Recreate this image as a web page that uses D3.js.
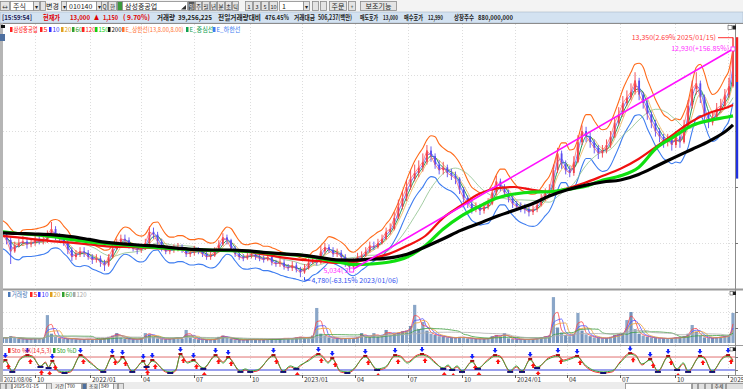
<!DOCTYPE html>
<html>
<head>
<meta charset="utf-8">
<script src="https://cdn.jsdelivr.net/npm/d3@7"></script>
<style>
html, body { margin: 0; padding: 0; background: #fff; overflow: hidden; }
svg { display: block; }
</style>
</head>
<body>
<script>
// ---- data (weekly bars, 2021/08/06 .. 2025/01/15) ----
const startDate = new Date(2021, 7, 6);
const firstOpen = 6250;
const closeP = [
  6300, 6100, 5700, 5900, 6000, 6050, 5950, 6000, 6100, 6050,
  6100, 6300, 6500, 6200, 6150, 6000, 5750, 5500, 5600, 5700,
  5650, 5500, 5400, 5450, 5300, 5200, 5500, 5800, 6000, 6150,
  6100, 5900, 5800, 5750, 5800, 6000, 6400, 6300, 6050, 5800,
  5700, 5750, 5800, 5850, 5750, 5600, 5650, 5750, 5700, 5600,
  5500, 5550, 5700, 5950, 6200, 6100, 5800, 5600, 5500, 5450,
  5550, 5600, 5500, 5450, 5400, 5500, 5300, 5250, 5300, 5150,
  5100, 5200, 5050, 4950, 5100, 5300, 5400, 5300, 5700, 5850,
  5750, 5600, 5650, 5500, 5250, 5150, 5350, 5500, 5550, 5700,
  5900, 5850, 6000, 6150, 6400, 6500, 6900, 7300, 7600, 8000,
  8300, 8500, 8700, 8900, 9300, 9100, 8800, 8600, 8700, 8500,
  8400, 8300, 7900, 7600, 7400, 7200, 7300, 7150, 7300, 7400,
  7800, 8200, 8000, 7800, 7600, 7400, 7300, 7250, 7200, 7100,
  7200, 7350, 7600, 7800, 7900, 8600, 9200, 8800, 8600, 8500,
  8900, 9600, 10000, 9800, 9600, 9400, 9200, 9300, 9500, 9800,
  10300, 10600, 11000, 11200, 11400, 11800, 11300, 11000, 10600, 10300,
  10000, 9800, 9600, 9700, 9500, 9800, 9600, 10200, 10900, 11500,
  11700, 11200, 10600, 10300, 10500, 10800, 10900, 11300, 11600, 13000
];
const highP = [
  6500, 6400, 6200, 6050, 6150, 6250, 6200, 6150, 6300, 6250,
  6250, 6450, 6750, 6600, 6350, 6250, 6100, 5850, 5750, 5850,
  5850, 5750, 5600, 5600, 5550, 5400, 5600, 5950, 6150, 6300,
  6300, 6200, 6000, 5950, 5950, 6150, 6600, 6550, 6400, 6150,
  5900, 5900, 5950, 6000, 5950, 5850, 5800, 5900, 5850, 5800,
  5700, 5700, 5850, 6100, 6350, 6300, 6150, 5900, 5700, 5600,
  5700, 5750, 5700, 5600, 5550, 5650, 5600, 5400, 5450, 5400,
  5250, 5350, 5300, 5150, 5250, 5450, 5550, 5500, 5900, 6000,
  5950, 5850, 5800, 5750, 5600, 5350, 5450, 5650, 5700, 5850,
  6050, 6050, 6150, 6300, 6550, 6700, 7100, 7550, 7850, 8250,
  8600, 8800, 8950, 9200, 9500, 9450, 9200, 8950, 8900, 8800,
  8650, 8550, 8350, 8000, 7700, 7500, 7450, 7400, 7450, 7600,
  8000, 8400, 8300, 8100, 7900, 7700, 7500, 7450, 7400, 7300,
  7350, 7500, 7750, 7950, 8100, 8800, 9400, 9300, 8950, 8750,
  9100, 9850, 10200, 10150, 9950, 9700, 9500, 9500, 9700, 10000,
  10500, 10850, 11250, 11450, 11700, 12100, 11900, 11400, 11100, 10700,
  10400, 10100, 9900, 9900, 9800, 10000, 9900, 10400, 11100, 11800,
  12100, 11800, 11300, 10700, 10700, 11000, 11150, 11500, 11900, 13350
];
const lowP = [
  6150, 5950, 5250, 5650, 5850, 5900, 5800, 5850, 5900, 5950,
  5950, 6000, 6200, 6100, 6000, 5900, 5600, 5350, 5400, 5500,
  5500, 5400, 5250, 5300, 5150, 5000, 5150, 5450, 5750, 5950,
  5950, 5800, 5700, 5600, 5650, 5750, 5950, 6150, 5950, 5700,
  5600, 5600, 5650, 5700, 5650, 5500, 5500, 5550, 5600, 5500,
  5400, 5400, 5500, 5650, 5900, 5950, 5700, 5500, 5400, 5350,
  5400, 5450, 5400, 5350, 5300, 5350, 5200, 5150, 5150, 5050,
  5000, 5000, 4950, 4780, 4900, 5050, 5250, 5200, 5250, 5600,
  5650, 5500, 5500, 5400, 5150, 5034, 5100, 5300, 5400, 5500,
  5650, 5750, 5800, 5950, 6100, 6300, 6450, 6850, 7200, 7500,
  7900, 8200, 8350, 8550, 8800, 8900, 8650, 8450, 8450, 8350,
  8250, 8100, 7750, 7450, 7250, 7050, 7100, 7000, 7050, 7200,
  7350, 7700, 7850, 7650, 7450, 7250, 7150, 7100, 7050, 6950,
  7000, 7100, 7300, 7500, 7700, 7850, 8500, 8650, 8450, 8350,
  8400, 8850, 9500, 9600, 9400, 9200, 9000, 9050, 9200, 9400,
  9750, 10200, 10500, 10900, 11100, 11300, 11100, 10800, 10400, 10100,
  9800, 9600, 9400, 9450, 9300, 9400, 9400, 9550, 10100, 10800,
  11300, 11000, 10400, 10100, 10200, 10400, 10650, 10800, 11200, 11550
];
// volume, millions of shares (height of the visible bar)
const volume = [
  18, 15, 22, 16, 14, 13, 12, 14, 15, 13,
  16, 90, 30, 20, 16, 14, 13, 15, 12, 11,
  12, 13, 11, 12, 13, 15, 20, 24, 32, 18,
  14, 13, 12, 12, 14, 32, 28, 20, 15, 13,
  12, 14, 16, 18, 14, 42, 18, 14, 12, 11,
  10, 11, 13, 20, 24, 16, 13, 11, 10, 10,
  11, 12, 11, 10, 11, 12, 13, 12, 14, 16,
  14, 15, 18, 20, 16, 18, 24, 113, 30, 24,
  18, 15, 14, 13, 16, 14, 16, 18, 32, 20,
  18, 32, 20, 24, 42, 26, 30, 34, 38, 40,
  55, 123, 45, 68, 40, 30, 26, 22, 20, 18,
  17, 16, 20, 18, 15, 14, 13, 14, 13, 15,
  22, 26, 20, 32, 15, 13, 12, 12, 11, 12,
  13, 15, 18, 22, 24, 148, 50, 34, 26, 22,
  30, 97, 40, 28, 22, 18, 16, 15, 16, 20,
  26, 28, 32, 74, 100, 45, 30, 24, 20, 18,
  16, 15, 15, 14, 16, 18, 17, 22, 30, 58,
  36, 24, 18, 16, 16, 18, 20, 22, 26, 97
];
// long moving averages read monthly
const maDates = [
  "2021-08-06", "2021-09-01", "2021-10-01", "2021-11-01", "2021-12-01",
  "2022-01-01", "2022-02-01", "2022-03-01", "2022-04-01", "2022-05-01", "2022-06-01",
  "2022-07-01", "2022-08-01", "2022-09-01", "2022-10-01", "2022-11-01", "2022-12-01",
  "2023-01-01", "2023-02-01", "2023-03-01", "2023-04-01", "2023-05-01", "2023-06-01",
  "2023-07-01", "2023-08-01", "2023-09-01", "2023-10-01", "2023-11-01", "2023-12-01",
  "2024-01-01", "2024-02-01", "2024-03-01", "2024-04-01", "2024-05-01", "2024-06-01",
  "2024-07-01", "2024-08-01", "2024-09-01", "2024-10-01", "2024-11-01", "2024-12-01",
  "2025-01-01", "2025-01-10"
];
const ma120 = [
  6250, 6200, 6130, 6060, 6010,
  5950, 5880, 5860, 5840, 5810, 5790, 5760, 5740, 5720, 5680, 5580, 5480,
  5400, 5350, 5290, 5330, 5450, 5620, 5900, 6250, 6900, 7330, 7750, 7950,
  8000, 7900, 7820, 7950, 8150, 8400, 8650, 9000, 9450, 9900, 10350, 10650,
  10850, 10930
];
const ma150 = [
  6400, 6340, 6300, 6230, 6130,
  6040, 5980, 5930, 5880, 5830, 5790, 5760, 5740, 5730, 5700, 5650, 5600,
  5560, 5450, 5340, 5230, 5250, 5320, 5500, 5900, 6500, 6950, 7300, 7600,
  7750, 7820, 7830, 7920, 8020, 8250, 8400, 8700, 9400, 9800, 10200, 10380,
  10500, 10540
];
const ma200 = [
  6360, 6340, 6320, 6290, 6230,
  6130, 6020, 5970, 5920, 5880, 5820, 5770, 5750, 5750, 5720, 5660, 5610,
  5570, 5480, 5400, 5390, 5420, 5470, 5600, 5860, 6150, 6450, 6700, 6950,
  7170, 7400, 7680, 7900, 8060, 8180, 8250, 8450, 8750, 9050, 9350, 9650,
  10050, 10220
];
// slow stochastic: [week number, %K, %D]
const stoPoints = [
  [0, 50, 55], [0.7, 66, 61], [2.4, 11, 16], [4.4, 75, 70], [6.1, 89, 84], [7.3, 85, 80],
  [9.3, 34, 39], [10.5, 57, 52], [11.3, 29, 34], [12.2, 62, 57], [13.7, 11, 16], [15.2, 6, 11],
  [16.7, 11, 16], [19.1, 89, 84], [21.5, 57, 52], [24.7, 11, 16], [26.9, 85, 80], [28.2, 57, 52],
  [29.4, 80, 75], [31.8, 11, 16], [34.5, 62, 57], [35.3, 34, 39], [36.7, 66, 61], [39.9, 11, 16],
  [41.1, 6, 11], [42.4, 15, 20], [43.6, 94, 89], [45.3, 57, 52], [46.8, 66, 61], [49.2, 25, 30],
  [52.2, 89, 84], [54.1, 57, 52], [55.3, 80, 75], [58.3, 11, 16], [59.5, 20, 25], [60.7, 11, 16],
  [62.4, 15, 20], [66.4, 89, 84], [68.8, 11, 16], [70.5, 34, 39], [72.0, 25, 30], [73.0, 38, 43],
  [74.9, 66, 61], [77.4, 94, 89], [78.4, 85, 80], [79.8, 57, 52], [80.8, 75, 70], [82.8, 11, 16],
  [84.5, 6, 11], [85.7, 15, 20], [88.9, 85, 80], [91.8, 20, 25], [93.8, 29, 34], [96.2, 89, 84],
  [97.5, 85, 80], [99.2, 57, 52], [101.6, 89, 84], [102.8, 94, 89], [104.3, 85, 80], [106.0, 57, 52],
  [108.0, 25, 30], [109.2, 38, 43], [110.2, 20, 25], [111.4, 34, 39], [112.6, 11, 16], [115.1, 62, 57],
  [116.5, 25, 30], [118.8, 66, 61], [120.7, 89, 84], [121.9, 85, 80], [124.4, 11, 16], [125.9, 34, 39],
  [127.3, 11, 16], [129.3, 71, 66], [131.0, 29, 34], [133.7, 75, 70], [136.1, 89, 84], [137.4, 66, 61],
  [139.1, 75, 70], [140.8, 85, 80], [142.8, 38, 43], [145.2, 11, 16], [147.2, 6, 11], [149.4, 11, 16],
  [151.3, 57, 52], [153.8, 98, 93], [155.2, 89, 84], [156.7, 43, 48], [158.7, 71, 66], [160.6, 11, 16],
  [163.1, 85, 80], [165.3, 20, 25], [166.8, 48, 53], [168.0, 11, 16], [170.9, 85, 80], [171.9, 80, 75],
  [173.9, 11, 16], [176.6, 80, 75], [177.8, 89, 84], [179.0, 66, 61]
];
const tickDates = [
  "2021-10-01", "2022-01-03", "2022-04-01", "2022-07-01", "2022-10-04", "2023-01-02", "2023-04-03",
  "2023-07-03", "2023-10-04", "2024-01-02", "2024-04-01", "2024-07-01", "2024-10-02", "2025-01-02"
];
const tickLabels = ["10", "2022/01", "04", "07", "10", "2023/01", "04", "07", "10", "2024/01", "04", "07", "10", "2025/01"];
const priceGrid = [6000, 8000, 10000, 12000];
const trendLine = [{date: "2023-03-28", v: 5034}, {date: "2025-01-10", v: 12930}];
const highMark = {date: "2025-01-10", v: 13350, text: "13,350(2.69% 2025/01/15)"};
const lowMark = {date: "2023-01-06", v: 4780, text: "4,780(-63.15% 2023/01/06)"};

const W = 743, H = 389;
const FONT = "'Noto Sans CJK KR', 'Noto Sans', sans-serif";
const parse = d3.timeParse("%Y-%m-%d");

const svg = d3.select("body").append("svg")
    .attr("width", W).attr("height", H)
    .style("font-family", FONT);

// scales
const endDate = d3.timeDay.offset(startDate, 7 * (closeP.length - 1));
const x = d3.scaleTime().domain([startDate, endDate]).range([2.5, 733]);
const xw = d3.scaleLinear().domain([0, closeP.length - 1]).range([2.5, 733]);
const y = d3.scaleLinear().domain([4000, 14000]).range([299, 19]);
const yv = d3.scaleLinear().domain([0, 150]).range([343, 296.5]);
const ys = d3.scaleLinear().domain([0, 100]).range([374.3, 352.7]);

const P = {left: 3, right: 735, mainTop: 24, mainBot: 289, volTop: 290, volBot: 345, stoTop: 346, stoBot: 375};

const defs = svg.append("defs");
[["clipMain", P.mainTop, P.mainBot], ["clipVol", P.volTop, P.volBot], ["clipSto", P.stoTop, P.stoBot]].forEach(c => {
    defs.append("clipPath").attr("id", c[0]).append("rect")
        .attr("x", P.left).attr("y", c[1]).attr("width", P.right - P.left).attr("height", c[2] - c[1]);
});

//////////// top toolbar ////////////
svg.append("rect").attr("x", 0).attr("y", 0).attr("width", W).attr("height", 12).attr("fill", "#f3f3f3");
const controls = [
    [0, 9, "btn", "↔"], [10, 23, "field", "주식"], [33, 6, "btn", "▾"], [40, 5, "btn", ""], [46, 0, "text", "변경"],
    [61, 5, "btn", "▾"], [66, 30, "field", "010140"], [96, 5, "btn", "▾"], [101, 6, "btn", "Q"], [108, 8, "btn", "한"],
    [117, 5, "icon", ""], [122, 65, "field", "삼성중공업"], [188, 6, "dark", "일"], [195, 6, "btn", "주"], [202, 7, "btn", "월"],
    [210, 6, "btn", "년"], [217, 7, "btn", "분"], [225, 6, "btn", "초"], [232, 6, "btn", "틱"], [245, 7, "btn", "1"],
    [253, 7, "btn", "3"], [261, 7, "btn", "5"], [269, 8, "btn", "10"], [279, 24, "field", "1"], [303, 6, "btn", "▾"],
    [312, 6, "btn", ""], [320, 6, "btn", ""], [329, 17, "btn", "주문"], [348, 7, "btn", "+"], [360, 36, "btn", "보조기능"]
];
controls.forEach(c => {
    const [cx, cw, kind, txt] = c;
    if (kind !== "text") {
        svg.append("rect").attr("x", cx + 0.5).attr("y", 1.5).attr("width", cw).attr("height", 9)
            .attr("fill", kind === "field" ? "#fff" : kind === "dark" ? "#555" : kind === "icon" ? "#3c9a3c" : "#e4e4e4")
            .attr("stroke", "#8a8a8a").attr("stroke-width", 0.8);
    }
    if (txt) {
        const small = kind === "btn" || kind === "dark";
        svg.append("text")
            .attr("x", kind === "field" ? cx + 3 : kind === "text" ? cx : cx + cw / 2 + 0.5)
            .attr("y", 9)
            .attr("text-anchor", kind === "field" || kind === "text" ? "start" : "middle")
            .attr("font-size", small && cw < 12 ? 5.5 : 7)
            .attr("fill", kind === "dark" ? "#fff" : "#222")
            .text(txt);
    }
});
svg.append("path").attr("d", "M181,9.5 L186,9.5 L186,5 Z").attr("fill", "#333");

//////////// info bar ////////////
svg.append("rect").attr("x", 0).attr("y", 12).attr("width", W).attr("height", 11)
    .attr("fill", "#d3e2f1").attr("stroke", "#a8b8c8").attr("stroke-width", 0.6);
const info = [
    ["[15:59:54]", 2, 30, "#1b1b55", 700], ["현재가", 43, 17, "#e00000", 700], ["13,000", 70, 20, "#e00000", 700],
    ["▲", 94, 5, "#e00000", 400], ["1,150", 103, 15, "#e00000", 700], ["( 9.70%)", 123, 27, "#e00000", 700],
    ["거래량", 157, 18, "#222", 700], ["39,256,225", 178, 34, "#222", 700], ["전일거래량대비", 218, 43, "#222", 700],
    ["476.45%", 265, 24, "#222", 700], ["거래대금", 294, 21, "#222", 700], ["506,237(백만)", 318, 34, "#222", 700],
    ["매도호가", 360, 18, "#222", 700], ["13,000", 383, 15, "#222", 700], ["매수호가", 404, 19, "#222", 700],
    ["12,990", 428, 15, "#222", 700], ["상장주수", 454, 20, "#222", 700], ["880,000,000", 478, 35, "#222", 700]
];
info.forEach(d => {
    svg.append("text").attr("x", d[1]).attr("y", 20.3)
        .attr("font-size", 6.8).attr("font-weight", d[4]).attr("fill", d[3])
        .attr("textLength", d[2]).attr("lengthAdjust", "spacingAndGlyphs")
        .text(d[0]);
});

//////////// panel frames ////////////
svg.append("rect").attr("x", 0).attr("y", 23).attr("width", 3).attr("height", 359).attr("fill", "#b5b5b5");
svg.append("rect").attr("x", 1).attr("y", 25).attr("width", 4).attr("height", 3).attr("fill", "#111");
svg.append("rect").attr("x", 0).attr("y", 34).attr("width", 5).attr("height", 7).attr("fill", "#4d6f9f");

[[P.mainTop - 0.5, "#8c8c8c", 1], [P.mainBot + 0.5, "#9a9a9a", 2], [P.volBot + 0.5, "#9a9a9a", 1], [P.stoBot + 0.5, "#9a9a9a", 1]]
    .forEach(l => svg.append("line").attr("x1", 3).attr("x2", W).attr("y1", l[0]).attr("y2", l[0])
        .attr("stroke", l[1]).attr("stroke-width", l[2]));
svg.append("line").attr("x1", P.right + 0.5).attr("x2", P.right + 0.5).attr("y1", P.mainTop).attr("y2", P.stoBot)
    .attr("stroke", "#8c8c8c");

// grids
const grid = svg.append("g").attr("stroke", "#d4d4d4").attr("stroke-dasharray", "1,2").attr("stroke-width", 0.8);
tickDates.forEach(t => {
    const tx = Math.round(x(parse(t))) + 0.5;
    [[P.mainTop, P.mainBot], [P.volTop, P.volBot], [P.stoTop, P.stoBot]].forEach(r =>
        grid.append("line").attr("x1", tx).attr("x2", tx).attr("y1", r[0]).attr("y2", r[1]));
});
priceGrid.forEach(p => grid.append("line").attr("x1", P.left).attr("x2", P.right)
    .attr("y1", Math.round(y(p)) + 0.5).attr("y2", Math.round(y(p)) + 0.5));
[50, 100].forEach(v => grid.append("line").attr("x1", P.left).attr("x2", P.right)
    .attr("y1", Math.round(yv(v)) + 0.5).attr("y2", Math.round(yv(v)) + 0.5));

// right side ticks
const rt = svg.append("g").attr("stroke", "#777");
priceGrid.map(p => y(p)).concat([yv(50), yv(100), ys(80), ys(20)]).forEach(v =>
    rt.append("line").attr("x1", P.right).attr("x2", P.right + 3).attr("y1", Math.round(v) + 0.5).attr("y2", Math.round(v) + 0.5));

//////////// main price panel ////////////
const main = svg.append("g").attr("clip-path", "url(#clipMain)");
const sma = (arr, n) => arr.map((v, i) => d3.mean(arr.slice(Math.max(0, i - n + 1), i + 1)));
const lineW = d3.line().x((d, i) => xw(i)).y(d => y(d)).curve(d3.curveMonotoneX);

const env = sma(closeP, 3);
const thin = [
    [env.map(v => v * 1.08), "#ff6a1a", 1.1],
    [env.map(v => v * 0.92), "#3d7cf0", 1.1],
    [sma(closeP, 12), "#8cc08c", 0.8],
    [sma(closeP, 4), "#e8b050", 0.8],
    [env, "#0a8a4a", 0.9],
    [sma(closeP, 2), "#4d5cff", 0.8]
];
thin.forEach(t => main.append("path").attr("d", lineW(t[0])).attr("fill", "none")
    .attr("stroke", t[1]).attr("stroke-width", t[2]));

// candles
const bars = closeP.map((c, i) => ({i, o: i ? closeP[i - 1] : firstOpen, c, h: highP[i], l: lowP[i]}));
const candle = main.selectAll(".candle").data(bars).enter().append("g").attr("class", "candle");
candle.append("line")
    .attr("x1", d => xw(d.i)).attr("x2", d => xw(d.i))
    .attr("y1", d => y(d.h)).attr("y2", d => y(d.l))
    .attr("stroke", d => d.c >= d.o ? "#f2404a" : "#5a4cf0").attr("stroke-width", 0.9);
candle.append("rect")
    .attr("x", d => xw(d.i) - 0.9).attr("width", 1.8)
    .attr("y", d => y(Math.max(d.o, d.c)))
    .attr("height", d => Math.max(1, Math.abs(y(d.o) - y(d.c))))
    .attr("fill", d => d.c >= d.o ? "#f2404a" : "#5a4cf0");

main.append("path").attr("d", d3.line().x((d, i) => xw(i)).y(d => y(d))(closeP))
    .attr("fill", "none").attr("stroke", "#ff5a5a").attr("stroke-width", 0.7);

// long moving averages
const lineD = d3.line().x(d => x(d.date)).y(d => y(d.v)).curve(d3.curveMonotoneX);
[[ma120, "#f01010", 2.2], [ma150, "#10e010", 3.2], [ma200, "#000", 3.2]].forEach(m => {
    const pts = maDates.map((dt, i) => ({date: parse(dt), v: m[0][i]}));
    main.append("path").attr("d", lineD(pts)).attr("fill", "none")
        .attr("stroke", m[1]).attr("stroke-width", m[2]).attr("stroke-linejoin", "round");
});

// trend line
const tl = trendLine.map(d => ({x: x(parse(d.date)), y: y(d.v), v: d.v}));
main.append("line").attr("x1", tl[0].x).attr("y1", tl[0].y).attr("x2", tl[1].x).attr("y2", tl[1].y)
    .attr("stroke", "#ff10ff").attr("stroke-width", 1.6);
tl.forEach(p => main.append("rect").attr("x", p.x - 2).attr("y", p.y - 2).attr("width", 4).attr("height", 4)
    .attr("fill", "#fff").attr("stroke", "#ff10ff").attr("stroke-width", 0.8));
const fmt = d3.format(",");
svg.append("text").attr("x", tl[0].x - 3).attr("y", tl[0].y + 2.5).attr("text-anchor", "end")
    .attr("font-size", 7).attr("fill", "#ff30ff").text(fmt(tl[0].v) + "( 3");
svg.append("text").attr("x", tl[1].x - 4).attr("y", tl[1].y + 2.5).attr("text-anchor", "end")
    .attr("font-size", 7).attr("fill", "#ff30ff")
    .text(fmt(tl[1].v) + "(+" + ((tl[1].v / tl[0].v - 1) * 100).toFixed(2) + "%)");

// high / low marks
const hx = x(parse(highMark.date)), hy = y(highMark.v);
svg.append("path").attr("d", `M${hx - 15},${hy + 0.5} H${hx} V${hy + 9}`).attr("fill", "none").attr("stroke", "#ff3030");
svg.append("text").attr("x", hx - 17).attr("y", hy + 3).attr("text-anchor", "end")
    .attr("font-size", 7).attr("fill", "#ff3a3a").text(highMark.text);
const lx = x(parse(lowMark.date)), ly = y(lowMark.v);
svg.append("path").attr("d", `M${lx},${ly} V${ly + 3} H${lx + 6}`).attr("fill", "none").attr("stroke", "#3050f0");
svg.append("text").attr("x", lx + 7).attr("y", ly + 6).attr("font-size", 7).attr("fill", "#3050f0").text(lowMark.text);

// current price range bar at the right edge
svg.append("rect").attr("x", 736).attr("y", y(13350)).attr("width", 2.2).attr("height", y(11750) - y(13350)).attr("fill", "#f02020");
svg.append("rect").attr("x", 736).attr("y", y(11750)).attr("width", 2.2).attr("height", y(8300) - y(11750)).attr("fill", "#2030e0");

// legend
function legend(items, ly) {
    items.forEach(it => {
        svg.append("rect").attr("x", it[1]).attr("y", ly - 4.5).attr("width", 2.5).attr("height", 5).attr("fill", it[3]);
        svg.append("text").attr("x", it[1] + 3.5).attr("y", ly).attr("font-size", 6.5).attr("fill", it[3])
            .attr("textLength", it[2]).attr("lengthAdjust", "spacingAndGlyphs").text(it[0]);
    });
}
legend([
    ["삼성중공업", 10, 24, "#ff2020"], ["5", 40, 4, "#ff2020"], ["10", 49, 7, "#3030ff"], ["20", 61, 7, "#e0a020"],
    ["60", 72, 7, "#30a030"], ["120", 82, 10, "#ff2020"], ["150", 95, 10, "#10d010"], ["200", 108, 10, "#111"],
    ["E_상한선(13,8.00,8.00)", 122, 58, "#ff7030"], ["E_중심선", 186, 24, "#10a050"], ["E_하한선", 213, 24, "#3d7cf0"]
], 31.5);
svg.append("rect").attr("x", 728).attr("y", 25.5).attr("width", 4).attr("height", 4).attr("fill", "#fff").attr("stroke", "#555").attr("stroke-width", 0.6);
svg.append("rect").attr("x", 732.5).attr("y", 25.5).attr("width", 3.5).attr("height", 4).attr("fill", "#222");

//////////// volume panel ////////////
const vol = svg.append("g").attr("clip-path", "url(#clipVol)");
vol.selectAll(".vbar").data(volume).enter().append("rect").attr("class", "vbar")
    .attr("x", (d, i) => xw(i) - 1.6).attr("width", 3.2)
    .attr("y", d => yv(d)).attr("height", d => yv(0) - yv(d))
    .attr("fill", (d, i) => i % 2 ? "#8aa6c8" : "#7393bb");
const lineV = d3.line().x((d, i) => xw(i)).y(d => yv(d)).curve(d3.curveMonotoneX);
[[2, "#ff4040"], [3, "#5050ff"], [4, "#f0a030"], [12, "#40a040"], [24, "#b0b0b0"]].forEach(m =>
    vol.append("path").attr("d", lineV(sma(volume, m[0]))).attr("fill", "none").attr("stroke", m[1]).attr("stroke-width", 0.8));
legend([
    ["거래량", 8, 16, "#4a78b8"], ["5", 30, 4, "#ff2020"], ["10", 38, 7, "#3030ff"], ["20", 50, 7, "#e0a020"],
    ["60", 62, 7, "#30a030"], ["120", 73, 10, "#a8a8a8"]
], 296.5);
svg.append("rect").attr("x", 730).attr("y", 291.5).attr("width", 3).attr("height", 3.5).attr("fill", "#fff").attr("stroke", "#555").attr("stroke-width", 0.6);
svg.append("rect").attr("x", 733).attr("y", 291.5).attr("width", 3).attr("height", 3.5).attr("fill", "#222");

//////////// stochastic panel ////////////
const sto = svg.append("g").attr("clip-path", "url(#clipSto)");
sto.append("line").attr("x1", P.left).attr("x2", P.right).attr("y1", ys(80)).attr("y2", ys(80)).attr("stroke", "#e07070").attr("stroke-width", 1);
sto.append("line").attr("x1", P.left).attr("x2", P.right).attr("y1", ys(20)).attr("y2", ys(20)).attr("stroke", "#9aa0ee").attr("stroke-width", 2);
const lineK = d3.line().x(d => xw(d[0])).y(d => ys(d[1])).curve(d3.curveMonotoneX);
const lineDd = d3.line().x(d => xw(d[0])).y(d => ys(d[2])).curve(d3.curveMonotoneX);
sto.append("path").attr("d", lineK(stoPoints)).attr("fill", "none").attr("stroke", "#f03030").attr("stroke-width", 1);
sto.append("path").attr("d", lineDd(stoPoints)).attr("fill", "none").attr("stroke", "#3caa3c").attr("stroke-width", 1);

// signal arrows at turning points
const downArrow = "M-1,-4 h2 v2 h1.5 l-2.5,3 l-2.5,-3 h1.5 z";
const upArrow = "M-1,4 h2 v-2 h1.5 l-2.5,-3 l-2.5,3 h1.5 z";
stoPoints.forEach((p, i) => {
    const prev = stoPoints[i - 1], next = stoPoints[i + 1];
    if (!prev || !next) return;
    const px = xw(p[0]);
    if (p[1] > prev[1] && p[1] >= next[1] && p[1] >= 60) {
        sto.append("path").attr("d", downArrow).attr("transform", `translate(${px},${ys(p[1]) - 3})`).attr("fill", "#1020ff");
        sto.append("path").attr("d", upArrow).attr("transform", `translate(${px + 3},${ys(p[1]) + 5})`).attr("fill", "#ff1010");
        sto.append("line").attr("x1", px - 2).attr("x2", px + 2).attr("y1", ys(p[1])).attr("y2", ys(p[1]))
            .attr("stroke", "#a01010").attr("stroke-width", 2);
    }
    if (p[1] < prev[1] && p[1] <= next[1] && p[1] <= 35) {
        sto.append("line").attr("x1", px - 3).attr("x2", px + 3).attr("y1", ys(p[1])).attr("y2", ys(p[1]))
            .attr("stroke", "#101070").attr("stroke-width", 2);
        sto.append("path").attr("d", upArrow).attr("transform", `translate(${px + 1},${ys(p[1]) + 4})`).attr("fill", "#ff1010");
    }
});
legend([["Sto %K(14,5,3)", 8, 40, "#f03030"], ["Sto %D", 53, 20, "#30a030"]], 352.5);
svg.append("rect").attr("x", 730).attr("y", 347.5).attr("width", 3).attr("height", 3.5).attr("fill", "#fff").attr("stroke", "#555").attr("stroke-width", 0.6);
svg.append("rect").attr("x", 733).attr("y", 347.5).attr("width", 3).attr("height", 3.5).attr("fill", "#222");

//////////// x axis ////////////
svg.append("text").attr("x", 4).attr("y", 381.5).attr("font-size", 6.5).attr("fill", "#333")
    .attr("textLength", 28).attr("lengthAdjust", "spacingAndGlyphs")
    .text(d3.timeFormat("%Y/%m/%d")(startDate));
tickDates.forEach((t, i) => {
    const tx = Math.round(x(parse(t))) + 0.5;
    svg.append("line").attr("x1", tx).attr("x2", tx).attr("y1", 375).attr("y2", 378).attr("stroke", "#555");
    svg.append("text").attr("x", tx + 1.5).attr("y", 381.5).attr("font-size", 6.5).attr("fill", "#333").text(tickLabels[i]);
});

//////////// bottom toolbar ////////////
svg.append("rect").attr("x", 0).attr("y", 382).attr("width", W).attr("height", 7).attr("fill", "#ececec");
const bottom = [
    [0, 5, "btn", ""], [6, 5, "btn", ""], [12, 34, "field", "2025-01-15"], [46, 5, "btn", ""], [53, 0, "text", "기간"],
    [65, 16, "field", "700"], [82, 4, "icon", ""], [87, 0, "text", "조회"], [99, 14, "field", "849"], [113, 4, "btn", ""],
    [118, 5, "btn", ""], [625, 66, "field", ""], [692, 5, "btn", ""], [698, 6, "btn", ""], [705, 6, "btn", ""],
    [712, 13, "btn", "추세"], [726, 17, "btn", ""]
];
bottom.forEach(c => {
    const [cx, cw, kind, txt] = c;
    if (kind !== "text") {
        svg.append("rect").attr("x", cx + 0.5).attr("y", 383.5).attr("width", cw).attr("height", 8)
            .attr("fill", kind === "field" ? "#fff" : kind === "icon" ? "#4d6f9f" : "#e0e0e0")
            .attr("stroke", "#8a8a8a").attr("stroke-width", 0.8);
    }
    if (txt) {
        svg.append("text").attr("x", kind === "btn" ? cx + cw / 2 + 0.5 : cx + 2).attr("y", 388)
            .attr("text-anchor", kind === "btn" ? "middle" : "start")
            .attr("font-size", 4.8).attr("fill", "#222").text(txt);
    }
});
</script>
</body>
</html>
